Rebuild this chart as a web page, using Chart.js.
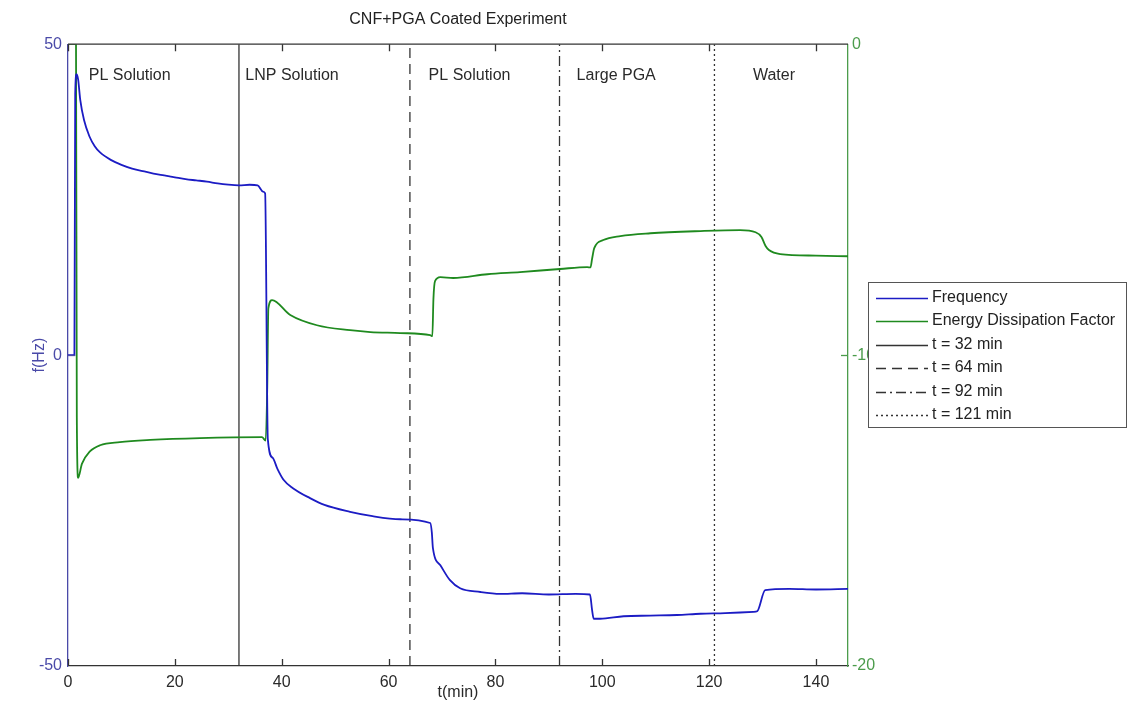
<!DOCTYPE html>
<html>
<head>
<meta charset="utf-8">
<script src="https://cdn.jsdelivr.net/npm/chart.js@4.4.1/dist/chart.umd.min.js"></script>
<style>
  html, body { margin: 0; padding: 0; background: #fff; }
  canvas { display: block; }
</style>
</head>
<body>
<canvas id="qcmChart" width="1128" height="713"></canvas>
<script>

/* DATA */

const timeFreq = [
    0, 1.2, 1.35, 1.6, 1.9, 2.3, 3, 4, 5, 6,
    8, 10, 12, 14, 16, 18, 20, 22, 24, 26,
    28, 30, 32, 34, 35.5, 36.5, 36.9, 37.4, 38.3, 39.2,
    40.3, 42.1, 45.3, 48, 52.8, 57, 62.2, 67.8, 68.1, 68.3,
    69.7, 71.5, 73.4, 77.2, 80.9, 85, 90, 95, 97.7, 98.1,
    98.4, 99.6, 104, 109, 114, 118.4, 123, 128.3, 129.0, 130.5,
    135, 140, 146
];

const freqHz = [
    0, 0, 42, 45.2, 44.3, 41, 37.8, 35.2, 33.6, 32.6,
    31.4, 30.6, 30.0, 29.6, 29.2, 28.9, 28.6, 28.3, 28.1, 27.9,
    27.6, 27.4, 27.3, 27.4, 27.3, 26.3, 26.0, -13.5, -16.5, -18.3,
    -20.0, -21.4, -23, -24.1, -25.2, -25.9, -26.4, -27.0, -28.5, -31.0,
    -33.8, -36.2, -37.5, -38.1, -38.4, -38.3, -38.5, -38.4, -38.5, -41,
    -42.4, -42.4, -42.0, -41.9, -41.8, -41.6, -41.5, -41.3, -41.2, -37.8,
    -37.6, -37.7, -37.6
];

const timeDiss = [
    0, 1.5, 1.65, 1.9, 2.6, 4.1, 6, 9.7, 15.4, 24.7,
    36.3, 37.0, 37.3, 37.5, 38.2, 41.6, 46.6, 52.8, 56.6, 62.2,
    67.8, 68.2, 68.4, 68.7, 69.7, 72.1, 78.5, 84.6, 92.1, 97.2,
    97.8, 98.1, 98.5, 100.2, 103.4, 109, 118.4, 125.8, 128.7, 129.8,
    130.6, 131.2, 133.3, 140, 146
];

const dissFactor = [
    0, 0, -12, -13.95, -13.5, -13.1, -12.9, -12.8, -12.73, -12.67,
    -12.64, -12.75, -11, -8.5, -8.23, -8.71, -9.04, -9.2, -9.26, -9.29,
    -9.36, -9.39, -8.2, -7.62, -7.49, -7.52, -7.4, -7.33, -7.23, -7.17,
    -7.18, -6.9, -6.56, -6.3, -6.17, -6.08, -6.01, -5.98, -6.05, -6.2,
    -6.5, -6.62, -6.75, -6.8, -6.82
];

const markerTimes = [32, 64, 92, 121];
const markerDashes = [[], [10, 6], [10, 4, 2, 4], [2, 3]];

const phaseNames = ['PL Solution', 'LNP Solution', 'PL Solution', 'Large PGA', 'Water'];

const xTicks = [0, 20, 40, 60, 80, 100, 120, 140];

/* STYLE */

const FONT = '"Liberation Sans", Arial, sans-serif';
const BLUE = '#1c1cc4';
const GREEN = '#1f8a1f';
const AXIS_BLUE = '#4a4aa8';
const AXIS_GREEN = '#4c9c4c';
const DARK = '#333333';

function pairs(xs, ys){
    return xs.map((x, i) => ({x: x, y: ys[i]}));
}

const datasets = [
    {
        label: 'Frequency',
        data: pairs(timeFreq, freqHz),
        yAxisID: 'yF',
        borderColor: BLUE,
        borderWidth: 1.8,
        cubicInterpolationMode: 'monotone'
    },
    {
        label: 'Energy Dissipation Factor',
        data: pairs(timeDiss, dissFactor),
        yAxisID: 'yD',
        borderColor: GREEN,
        borderWidth: 1.8,
        cubicInterpolationMode: 'monotone'
    }
];

markerTimes.forEach((t, i) => {
    datasets.push({
        label: `t = ${t} min`,
        data: [{x: t, y: -50}, {x: t, y: 50}],
        yAxisID: 'yF',
        borderColor: DARK,
        borderWidth: 1.3,
        borderDash: markerDashes[i]
    });
});

/* EXTRA DRAWING: frame, inward ticks, labels, legend */

const matlabLook = {
    id: 'matlabLook',
    afterDraw(chart){
        const ctx = chart.ctx;
        const a = chart.chartArea;
        const sx = chart.scales.x;
        const sF = chart.scales.yF;
        const sD = chart.scales.yD;

        ctx.save();

        // top frame line
        ctx.strokeStyle = DARK;
        ctx.lineWidth = 1.3;
        ctx.beginPath();
        ctx.moveTo(a.left, a.top);
        ctx.lineTo(a.right, a.top);
        ctx.stroke();

        // x ticks, bottom and top, pointing inward
        xTicks.forEach(v => {
            const px = Math.round(sx.getPixelForValue(v)) + 0.5;
            ctx.beginPath();
            ctx.moveTo(px, a.bottom);
            ctx.lineTo(px, a.bottom - 7);
            ctx.moveTo(px, a.top);
            ctx.lineTo(px, a.top + 7);
            ctx.stroke();
        });

        // y ticks
        ctx.strokeStyle = AXIS_BLUE;
        ctx.beginPath();
        const y0 = Math.round(sF.getPixelForValue(0)) + 0.5;
        ctx.moveTo(a.left, y0);
        ctx.lineTo(a.left + 7, y0);
        ctx.stroke();

        ctx.strokeStyle = AXIS_GREEN;
        ctx.beginPath();
        const y10 = Math.round(sD.getPixelForValue(-10)) + 0.5;
        ctx.moveTo(a.right, y10);
        ctx.lineTo(a.right - 7, y10);
        ctx.stroke();

        // phase labels
        ctx.font = `16px ${FONT}`;
        ctx.fillStyle = '#2a2a2a';
        ctx.textBaseline = 'middle';
        ctx.textAlign = 'left';
        const phaseX = [3.9, 33.2, 67.5, 95.2, 128.2];
        const labelY = sF.getPixelForValue(45);
        phaseNames.forEach((name, i) => {
            ctx.fillText(name, sx.getPixelForValue(phaseX[i]), labelY);
        });

        // axis titles
        ctx.textAlign = 'center';
        ctx.fillStyle = '#2a2a2a';
        ctx.fillText('t(min)', (a.left + a.right) / 2, 693);

        ctx.save();
        ctx.translate(40, (a.top + a.bottom) / 2);
        ctx.rotate(-Math.PI / 2);
        ctx.fillStyle = AXIS_BLUE;
        ctx.fillText('f(Hz)', 0, 0);
        ctx.restore();

        // legend box
        const bx = 868, by = 282, bw = 259, bh = 146;
        ctx.fillStyle = '#ffffff';
        ctx.fillRect(bx, by, bw, bh);
        ctx.strokeStyle = '#555555';
        ctx.lineWidth = 1;
        ctx.strokeRect(bx + 0.5, by + 0.5, bw - 1, bh - 1);

        ctx.textAlign = 'left';
        ctx.fillStyle = '#222222';
        chart.data.datasets.forEach((ds, i) => {
            const ry = by + 15.5 + i * 23.5;
            ctx.save();
            ctx.strokeStyle = ds.borderColor;
            ctx.lineWidth = 1.3;
            ctx.setLineDash(ds.borderDash || []);
            ctx.beginPath();
            ctx.moveTo(bx + 8, Math.round(ry) + 0.5);
            ctx.lineTo(bx + 60, Math.round(ry) + 0.5);
            ctx.stroke();
            ctx.restore();
            ctx.fillText(ds.label, bx + 64, ry);
        });

        ctx.restore();
    }
};

/* CHART */

const qcmChart = new Chart(
document.getElementById('qcmChart'),{

    type: 'line',

    data: {
        datasets: datasets
    },

    options: {
        responsive: false,
        animation: false,
        devicePixelRatio: 1,
        elements: {
            point: { radius: 0 }
        },
        layout: {
            padding: { left: 0, right: 0, top: 0, bottom: 0 }
        },
        plugins: {
            legend: { display: false },
            tooltip: { enabled: false },
            title: {
                display: true,
                text: 'CNF+PGA Coated Experiment',
                fullSize: false,
                color: '#222222',
                font: { family: FONT, size: 16, weight: 'normal' },
                padding: { top: 10, bottom: 15 }
            }
        },
        scales: {
            x: {
                type: 'linear',
                min: 0,
                max: 146,
                grid: { display: false, drawTicks: false },
                border: { color: DARK, width: 1.3 },
                ticks: {
                    padding: 7,
                    color: '#2a2a2a',
                    font: { family: FONT, size: 16 }
                },
                afterBuildTicks: s => { s.ticks = xTicks.map(v => ({value: v})); },
                afterFit: s => { s.height = 47; }
            },
            yF: {
                type: 'linear',
                position: 'left',
                min: -50,
                max: 50,
                grid: { display: false, drawTicks: false },
                border: { color: AXIS_BLUE, width: 1.3 },
                ticks: {
                    stepSize: 50,
                    padding: 6,
                    color: AXIS_BLUE,
                    font: { family: FONT, size: 16 }
                },
                afterFit: s => { s.width = 68; }
            },
            yD: {
                type: 'linear',
                position: 'right',
                min: -20,
                max: 0,
                grid: { display: false, drawTicks: false },
                border: { color: AXIS_GREEN, width: 1.3 },
                ticks: {
                    stepSize: 10,
                    padding: 4,
                    color: AXIS_GREEN,
                    font: { family: FONT, size: 16 }
                },
                afterFit: s => { s.width = 280; }
            }
        }
    },

    plugins: [matlabLook]

});

</script>
</body>
</html>
